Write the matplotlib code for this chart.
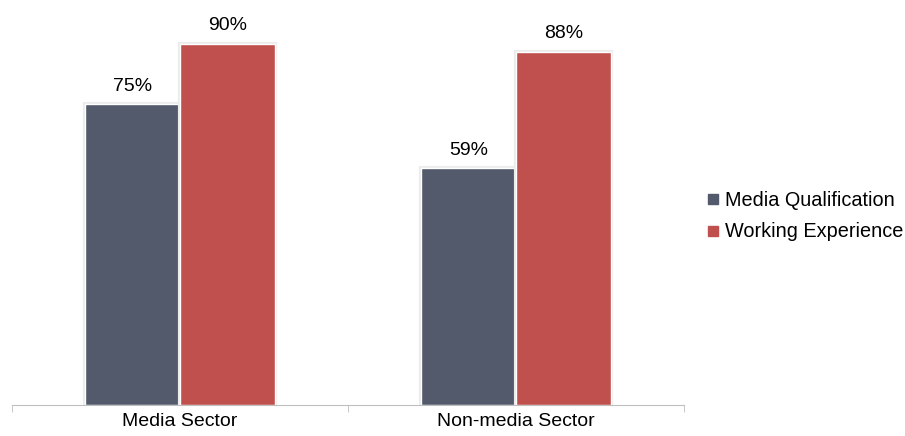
import numpy as np
import matplotlib.pyplot as plt
import matplotlib.patheffects as pe
from matplotlib.lines import Line2D

plt.rcParams['font.family'] = ['Liberation Sans', 'DejaVu Sans']

categories = ['Media Sector', 'Non-media Sector']
series_names = ['Media Qualification', 'Working Experience']
qualification = [0.75, 0.59]
experience = [0.90, 0.88]
colors = ['#525a6b', '#c0504d']

fig = plt.figure(figsize=(9.05, 4.36), dpi=100)
ax = fig.add_axes([12/905, 1 - 405/436, 672/905, 401/436])

x = np.arange(len(categories))
w = 0.283
effects = [pe.Stroke(linewidth=3, foreground='#ececec'), pe.Normal()]
for i, vals in enumerate([qualification, experience]):
    bars = ax.bar(x + (i - 0.5) * w, vals, w, color=colors[i], edgecolor='white',
                  linewidth=1, label=series_names[i])
    for b in bars:
        b.set_path_effects(effects)
    for b, v in zip(bars, vals):
        ax.annotate(f'{v:.0%}', (b.get_x() + b.get_width() / 2, v), xytext=(0, 7),
                    textcoords='offset points', ha='center', va='bottom', fontsize=14)

ax.set_xlim(-0.5, 1.5)
ax.set_ylim(0, 1.0)
ax.set_yticks([])
for s in ['top', 'right', 'left']:
    ax.spines[s].set_visible(False)
ax.spines['bottom'].set_color('#bfbfbf')
ax.set_xticks(x)
ax.set_xticklabels(categories, fontsize=14)
ax.tick_params(axis='x', which='major', length=0, pad=6)
ax.set_xticks([-0.5, 0.5, 1.5], minor=True)
ax.tick_params(axis='x', which='minor', length=5, color='#bfbfbf', direction='out')

handles = [Line2D([], [], marker='s', linestyle='none', markersize=7, color=c) for c in colors]
fig.legend(handles, series_names, loc='center left', bbox_to_anchor=(693/905, 1 - 216/436),
           frameon=False, fontsize=14.3, handletextpad=0.0, labelspacing=0.65,
           handlelength=1.2, borderaxespad=0)

fig.savefig('out.png', dpi=100)
